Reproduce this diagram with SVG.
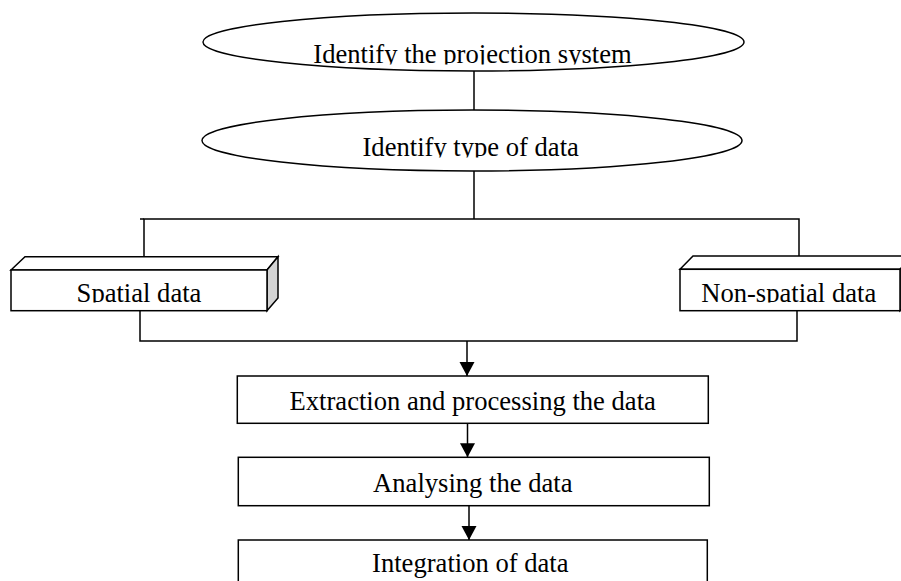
<svg xmlns="http://www.w3.org/2000/svg" width="901" height="581" viewBox="0 0 901 581">
<style>
.s{fill:#fff;stroke:#000;stroke-width:1.5}
.g{fill:#d4d4d4;stroke:#000;stroke-width:1.5}
.l{fill:none;stroke:#000;stroke-width:1.5}
.t{font-family:"Liberation Serif","Times New Roman",serif;font-size:26.6px;fill:#000;text-anchor:middle}
</style>
<defs>
<marker id="arr" markerUnits="userSpaceOnUse" markerWidth="16" markerHeight="17" refX="14" refY="8" orient="auto" overflow="visible">
<path d="M0,0.5 L14,8 L0,15.5 z" fill="#000"/>
</marker>
<clipPath id="c1"><rect x="0" y="0" width="901" height="64.5"/></clipPath>
<clipPath id="c2"><rect x="0" y="100" width="901" height="57.5"/></clipPath>
<clipPath id="c3"><rect x="0" y="250" width="901" height="52.5"/></clipPath>
</defs>
<rect width="901" height="581" fill="#fff"/>
<g id="connectors">
<line class="l" x1="474" y1="71" x2="474" y2="110"/>
<line class="l" x1="474" y1="171" x2="474" y2="219"/>
<polyline class="l" points="144,256.7 144,219 799,219 799,256"/>
<line class="l" x1="140" y1="219" x2="144" y2="219"/>
<polyline class="l" points="140,311 140,341 797,341 797,311"/>
<line class="l" x1="467" y1="341" x2="467" y2="376" marker-end="url(#arr)"/>
<line class="l" x1="467.5" y1="423.3" x2="467.5" y2="457.3" marker-end="url(#arr)"/>
<line class="l" x1="469" y1="505.7" x2="469" y2="540" marker-end="url(#arr)"/>
</g>
<g id="n1">
<ellipse class="s" cx="473.5" cy="42" rx="270.5" ry="29"/>
<text class="t" x="472.5" y="63" clip-path="url(#c1)">Identify the projection system</text>
</g>
<g id="n2">
<ellipse class="s" cx="472" cy="140.5" rx="270" ry="30.5"/>
<text class="t" x="470.7" y="156" clip-path="url(#c2)">Identify type of data</text>
</g>
<g id="n3">
<polygon class="s" points="11,270 25,256.7 278,256.7 267,270"/>
<polygon class="g" points="267,270 278,256.7 278,298 267,310.7"/>
<rect class="s" x="11" y="270" width="256" height="40.7"/>
<text class="t" x="139" y="301.7" clip-path="url(#c3)">Spatial data</text>
</g>
<g id="n4">
<polygon class="s" points="680,269.3 693,256 914,256 900,269.3"/>
<polygon class="g" points="900,269.3 914,256 914,298 900,310.7"/>
<rect class="s" x="680" y="269.3" width="220" height="41.4"/>
<text class="t" x="788.7" y="301.7" clip-path="url(#c3)">Non-spatial data</text>
</g>
<g id="n5">
<rect class="s" x="237.3" y="376" width="471" height="47.3"/>
<text class="t" x="472.7" y="410">Extraction and processing the data</text>
</g>
<g id="n6">
<rect class="s" x="238.3" y="457.3" width="471" height="48.4"/>
<text class="t" x="472.8" y="491.7">Analysing the data</text>
</g>
<g id="n7">
<rect class="s" x="238.3" y="540" width="469" height="60"/>
<text class="t" x="470.3" y="571.7">Integration of data</text>
</g>
</svg>
